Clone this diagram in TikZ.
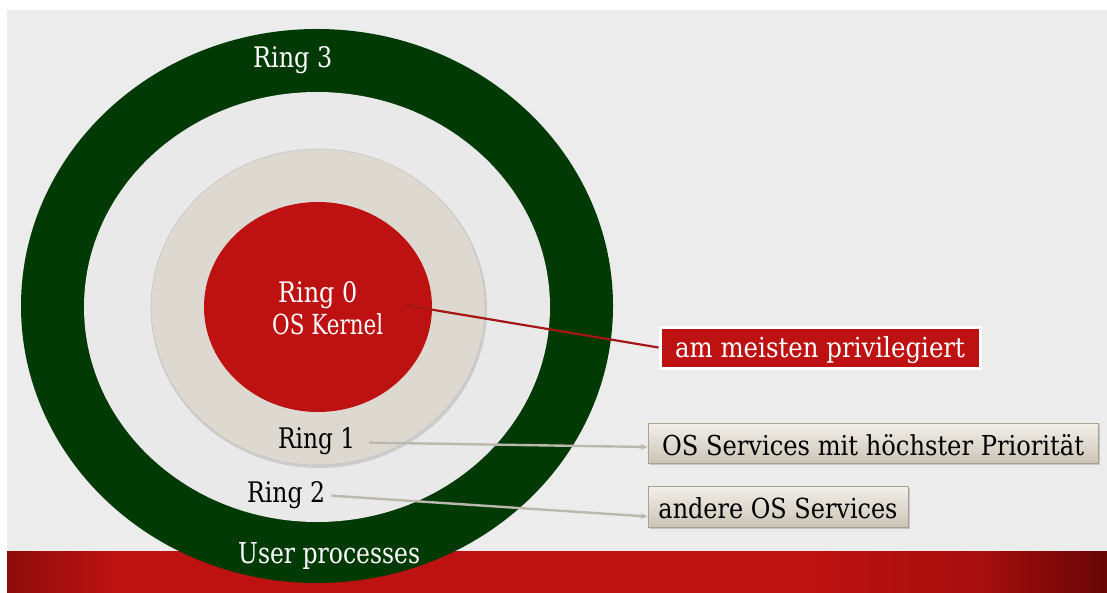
\documentclass[tikz,border=0pt]{standalone}
\usepackage{fontspec}
\setmainfont{DejaVu Serif}
\usetikzlibrary{arrows.meta,shadows}
\definecolor{ringgreen}{HTML}{023A06}
\definecolor{ringlight}{HTML}{E9E9E9}
\definecolor{ringbeige}{HTML}{DDD8D0}
\definecolor{ringred}{HTML}{BE1111}
\definecolor{slidebg}{HTML}{ECECEC}
\definecolor{barl}{HTML}{8E0C0C}
\definecolor{barm}{HTML}{BE1212}
\definecolor{barn}{HTML}{A80E0E}
\definecolor{barr}{HTML}{680606}
\definecolor{boxtop}{HTML}{F3F0EA}
\definecolor{boxbot}{HTML}{CBC4B7}
\definecolor{boxline}{HTML}{A8A090}
\definecolor{linkgray}{HTML}{BDB8AE}
\definecolor{linkred}{HTML}{A51616}
\pgfdeclarehorizontalshading{redbar}{100bp}{color(0bp)=(barl); color(25bp)=(barl); color(30bp)=(barm); color(61bp)=(barm); color(69bp)=(barn); color(75bp)=(barr); color(100bp)=(barr)}
\newcommand{\fitw}[2]{\resizebox{#1}{21pt}{#2}}
\tikzset{
  lbl/.style={inner sep=0pt, anchor=base west},
  wlbl/.style={lbl, text=white},
  infobox/.style={draw=boxline, line width=0.8pt, top color=boxtop, bottom color=boxbot,
    inner sep=0pt, text height=25pt, text depth=1pt,
    drop shadow={opacity=0.35, shadow xshift=2pt, shadow yshift=-2pt}},
  redbox/.style={draw=white, line width=3pt, fill=ringred, text=white,
    inner sep=0pt, text height=24pt, text depth=4pt,
    drop shadow={opacity=0.35, shadow xshift=2pt, shadow yshift=-2pt}},
  graylink/.style={draw=linkgray, line width=2.4pt, -{Stealth[length=7pt,width=6pt]}},
  redlink/.style={draw=linkred, line width=2.2pt, -{Stealth[length=8pt,width=5pt]}}
}
\begin{document}
\begin{tikzpicture}[x=1pt,y=-1pt]
  \useasboundingbox (0,0) rectangle (1107,593);
  \fill[white] (0,0) rectangle (1107,593);
  % slide background
  \fill[slidebg] (7,10) rectangle (1107,593);
  % bottom red bar
  \shade[shading=redbar] (7,551) rectangle (1107,593);
  % rings
  \fill[ringgreen] (317,306) ellipse [x radius=296, y radius=277];
  \fill[ringlight] (317,307) ellipse [x radius=233, y radius=215];
  \fill[black, opacity=0.12] (319,309) ellipse [x radius=168, y radius=159];
  \fill[ringbeige, draw=gray!45, line width=0.6pt] (318,307) ellipse [x radius=167, y radius=158];
  \fill[ringred] (318,307) ellipse [x radius=114, y radius=105];
  % labels
  \node[wlbl] (r3) at (253,68) {\fitw{79pt}{Ring 3}};
  \node[wlbl] (r0) at (278,302) {\fitw{79pt}{Ring 0}};
  \node[wlbl] (kern) at (272,334) {\fitw{111pt}{OS Kernel}};
  \node[lbl] (r1) at (278,448) {\fitw{77pt}{Ring 1}};
  \node[lbl] (r2) at (247,502) {\fitw{78pt}{Ring 2}};
  \node[wlbl] (up) at (238,563) {\fitw{182pt}{User processes}};
  % boxes
  \node[redbox, minimum width=320pt, minimum height=41pt] (priv) at (820,347.5) {\fitw{290pt}{am meisten privilegiert}};
  \node[infobox, minimum width=450pt, minimum height=40pt] (b1) at (873,443) {\fitw{422pt}{OS Services mit höchster Priorität}};
  \node[infobox, minimum width=260pt, minimum height=41pt] (b2) at (778,506.5) {\fitw{239pt}{andere OS Services}};
  % connectors
  \coordinate (k0) at (404,305);
  \draw[redlink] (priv.west) -- (k0);
  \draw[graylink] ([xshift=14pt,yshift=-2pt]r1.east) -- ([yshift=-4pt]b1.west);
  \draw[graylink] ([xshift=6pt,yshift=-1pt]r2.east) -- ([yshift=-10pt]b2.west);
\end{tikzpicture}
\end{document}
